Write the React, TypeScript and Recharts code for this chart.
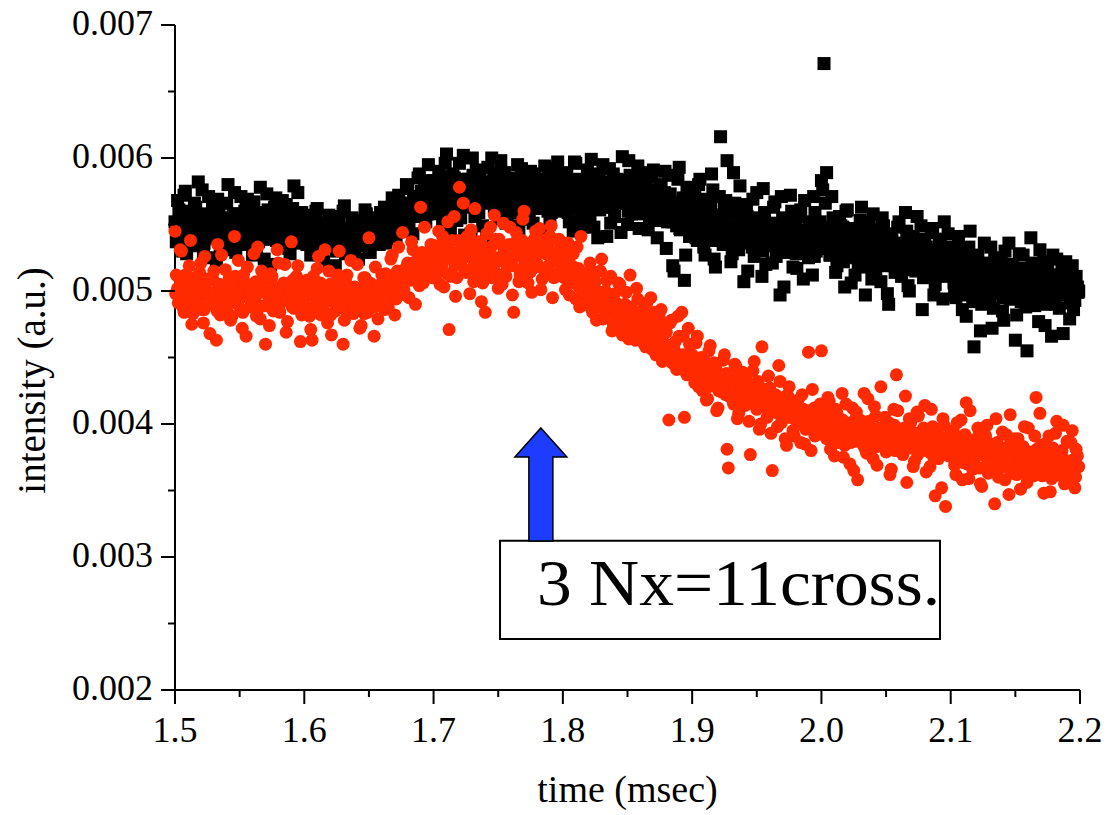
import React from 'react';
import { ScatterChart, Scatter, XAxis, YAxis, ReferenceArea, ReferenceDot } from 'recharts';

// Intensity samples in units of 1e-5 a.u., one array per 0.1 ms block.
// "A" arrays: t = 1.5000, 1.5020, ... ; "B": t = 1.5010, 1.5030, ... ; "C": t = 1.5005, 1.5025, ...
const T_START = 1.5;
const T_STEP = 0.002;

const black150A = [552, 568, 541, 530, 575, 549, 558, 537, 563, 582, 544, 529, 556, 571, 540, 547, 523, 561, 553, 538, 566, 549, 531, 574, 558, 542, 535, 560, 569, 548, 527, 555, 545, 578, 539, 552, 561, 520, 548, 570, 543, 536, 557, 565, 532, 551, 579, 546, 538, 559];
const black160A = [548, 535, 557, 529, 544, 562, 538, 526, 551, 541, 533, 556, 519, 545, 539, 560, 528, 547, 536, 553, 542, 524, 549, 537, 558, 531, 546, 540, 555, 535, 548, 563, 539, 552, 570, 544, 558, 547, 566, 551, 577, 556, 543, 569, 585, 560, 574, 552, 595, 567];
const black170A = [572, 558, 590, 567, 548, 603, 579, 561, 585, 553, 596, 570, 542, 581, 564, 600, 556, 574, 588, 549, 566, 593, 571, 537, 580, 562, 598, 575, 551, 569, 585, 559, 577, 545, 592, 566, 581, 554, 571, 588, 562, 540, 576, 594, 567, 553, 583, 570, 597, 560];
const black180A = [571, 586, 559, 578, 545, 596, 567, 553, 582, 574, 561, 599, 548, 576, 588, 563, 570, 541, 592, 579, 556, 584, 566, 601, 573, 550, 587, 562, 577, 594, 558, 569, 583, 546, 575, 591, 564, 553, 580, 568, 532, 587, 560, 515, 549, 593, 566, 508, 578, 541];
const black190A = [556, 572, 538, 584, 549, 527, 563, 541, 576, 518, 553, 616, 535, 568, 546, 522, 589, 558, 531, 549, 507, 565, 540, 552, 526, 574, 543, 511, 559, 534, 548, 521, 567, 537, 497, 555, 529, 544, 572, 518, 547, 533, 561, 509, 540, 525, 552, 571, 530, 546];
const black200A = [583, 671, 589, 548, 571, 532, 519, 556, 540, 503, 561, 528, 545, 512, 536, 553, 521, 497, 544, 530, 558, 516, 538, 507, 549, 525, 490, 541, 519, 535, 552, 511, 528, 545, 500, 534, 518, 556, 523, 486, 539, 512, 529, 547, 505, 521, 537, 494, 526, 543];
const black210A = [512, 528, 495, 541, 506, 519, 481, 533, 500, 458, 523, 510, 490, 536, 503, 517, 472, 525, 498, 511, 485, 530, 507, 494, 520, 463, 513, 499, 527, 488, 509, 540, 496, 518, 477, 505, 522, 491, 511, 466, 501, 524, 487, 515, 498, 508, 479, 519, 493, 503];

const black150B = [537, 561, 549, 572, 528, 555, 543, 566, 534, 551, 576, 540, 558, 525, 563, 547, 569, 533, 552, 544, 580, 538, 557, 529, 548, 571, 541, 562, 536, 554, 567, 531, 549, 558, 524, 573, 545, 539, 563, 550, 534, 568, 546, 557, 528, 562, 543, 574, 537, 551];
const black160B = [541, 553, 527, 546, 560, 534, 549, 522, 543, 557, 536, 548, 530, 552, 542, 564, 533, 545, 555, 527, 540, 551, 535, 561, 544, 529, 553, 538, 547, 559, 543, 536, 556, 549, 561, 541, 572, 553, 559, 580, 548, 565, 571, 556, 588, 562, 577, 558, 583, 569];
const black170B = [583, 564, 575, 552, 596, 570, 547, 588, 561, 579, 555, 602, 568, 584, 543, 573, 591, 559, 567, 581, 546, 576, 600, 563, 587, 554, 572, 589, 558, 580, 564, 549, 595, 570, 582, 557, 574, 590, 551, 578, 566, 584, 545, 572, 588, 559, 576, 592, 563, 574];
const black180B = [566, 589, 552, 575, 597, 562, 580, 548, 571, 591, 557, 584, 567, 540, 578, 595, 563, 572, 551, 588, 569, 583, 544, 576, 566, 598, 558, 581, 570, 547, 589, 563, 575, 555, 586, 568, 540, 579, 561, 590, 552, 573, 519, 565, 584, 546, 570, 527, 561, 553];
const black190B = [563, 540, 580, 551, 533, 569, 546, 588, 524, 557, 571, 539, 562, 598, 544, 528, 566, 551, 579, 536, 560, 515, 547, 569, 532, 555, 541, 577, 520, 550, 538, 563, 526, 546, 571, 503, 553, 536, 560, 542, 517, 556, 531, 568, 538, 549, 512, 559, 535, 552];
const black200B = [576, 566, 542, 527, 555, 514, 538, 549, 522, 560, 533, 506, 547, 525, 541, 563, 518, 531, 552, 509, 537, 546, 520, 555, 531, 498, 543, 527, 514, 548, 536, 521, 559, 504, 532, 541, 515, 527, 549, 510, 533, 519, 544, 497, 528, 539, 511, 552, 520, 533];
const black210B = [519, 497, 532, 510, 486, 525, 503, 545, 492, 514, 527, 470, 508, 521, 496, 533, 487, 512, 503, 524, 478, 516, 536, 494, 509, 482, 528, 500, 517, 455, 506, 521, 489, 513, 531, 496, 474, 518, 502, 527, 490, 512, 507, 468, 522, 497, 515, 486, 511, 500];

const black150C = [548, 541, 556, 537, 552, 545, 560, 539, 550, 543, 557, 536, 549, 554, 540, 546, 561, 538, 551, 544, 555, 542, 548, 536, 558, 547, 541, 553, 539, 550, 545, 559, 537, 552, 546, 540, 556, 543, 549, 538, 554, 547, 541, 557, 544, 550, 536, 553, 545, 548];
const black160C = [542, 535, 548, 531, 544, 538, 551, 533, 546, 540, 536, 549, 532, 543, 539, 547, 530, 545, 537, 550, 534, 546, 541, 538, 552, 543, 536, 549, 540, 547, 553, 545, 558, 550, 556, 548, 562, 554, 559, 566, 557, 564, 571, 560, 568, 575, 563, 570, 578, 572];
const black170C = [575, 566, 583, 569, 578, 561, 586, 572, 565, 580, 570, 584, 563, 577, 568, 587, 574, 560, 579, 571, 582, 567, 575, 589, 564, 578, 570, 583, 562, 576, 569, 581, 573, 565, 586, 571, 578, 563, 580, 574, 567, 584, 572, 577, 560, 581, 569, 575, 585, 571];
const black180C = [572, 580, 565, 577, 569, 584, 562, 575, 570, 581, 566, 578, 573, 585, 561, 576, 568, 582, 571, 564, 579, 570, 583, 567, 575, 560, 578, 572, 584, 566, 573, 569, 580, 563, 576, 568, 557, 571, 565, 574, 560, 568, 552, 566, 558, 547, 563, 555, 549, 561];
const black190C = [556, 548, 563, 541, 553, 559, 545, 566, 550, 538, 557, 546, 552, 540, 561, 548, 535, 554, 543, 550, 538, 556, 545, 533, 549, 541, 553, 530, 546, 539, 551, 536, 544, 529, 548, 540, 532, 547, 537, 543, 528, 541, 535, 546, 531, 538, 544, 526, 539, 533];
const black200C = [540, 532, 546, 527, 538, 543, 524, 536, 548, 530, 541, 526, 535, 544, 521, 533, 539, 528, 545, 531, 522, 537, 529, 541, 519, 534, 526, 538, 523, 532, 527, 518, 535, 524, 530, 516, 533, 521, 528, 537, 514, 525, 531, 519, 527, 512, 523, 529, 517, 525];
const black210C = [514, 506, 521, 500, 512, 518, 497, 509, 524, 503, 511, 498, 516, 505, 520, 493, 508, 514, 501, 517, 495, 510, 504, 519, 499, 507, 512, 492, 506, 515, 502, 509, 496, 513, 500, 505, 490, 511, 498, 507, 494, 504, 512, 497, 501, 508, 491, 503, 510, 499];

const red150A = [545, 502, 531, 489, 512, 497, 538, 483, 506, 494, 521, 476, 509, 499, 490, 515, 463, 503, 527, 486, 497, 510, 481, 541, 495, 505, 472, 500, 518, 488, 503, 493, 533, 479, 508, 460, 498, 513, 485, 502, 521, 492, 506, 469, 499, 537, 487, 511, 496, 482];
const red160A = [494, 508, 481, 463, 502, 517, 489, 497, 531, 476, 505, 492, 485, 512, 499, 460, 507, 490, 523, 483, 501, 495, 474, 510, 488, 540, 497, 466, 504, 493, 512, 486, 509, 499, 527, 482, 515, 503, 544, 497, 521, 508, 531, 490, 517, 563, 506, 528, 514, 535];
const red170A = [528, 512, 545, 519, 503, 537, 471, 524, 556, 510, 578, 531, 516, 541, 498, 527, 562, 513, 535, 506, 484, 529, 548, 517, 539, 502, 523, 551, 511, 533, 521, 484, 544, 507, 530, 560, 515, 526, 499, 539, 520, 547, 509, 532, 518, 541, 495, 527, 513, 536];
const red180A = [522, 501, 536, 509, 528, 494, 517, 541, 498, 511, 489, 515, 503, 478, 497, 524, 486, 508, 492, 470, 498, 481, 505, 467, 490, 476, 512, 483, 463, 494, 471, 486, 458, 479, 495, 465, 452, 474, 486, 461, 469, 403, 478, 456, 441, 466, 484, 405, 437, 460];
const red190A = [452, 431, 466, 438, 425, 447, 419, 459, 433, 441, 412, 436, 448, 422, 367, 430, 415, 443, 408, 427, 419, 434, 402, 425, 447, 411, 396, 458, 420, 405, 427, 365, 413, 398, 432, 406, 389, 421, 410, 395, 403, 418, 386, 411, 396, 454, 380, 407, 392, 413];
const red200A = [455, 401, 389, 417, 395, 376, 408, 392, 423, 384, 399, 370, 412, 387, 358, 403, 394, 381, 419, 397, 374, 406, 388, 428, 392, 379, 401, 366, 411, 437, 383, 390, 397, 356, 404, 385, 372, 409, 393, 380, 414, 387, 368, 398, 346, 391, 377, 404, 338, 386];
const red210A = [378, 395, 362, 384, 403, 371, 416, 359, 388, 374, 367, 392, 353, 381, 399, 365, 376, 340, 386, 369, 394, 358, 379, 407, 363, 372, 389, 351, 383, 366, 397, 375, 361, 420, 370, 384, 348, 377, 391, 359, 373, 402, 364, 380, 355, 387, 369, 395, 352, 376];

const red150B = [512, 496, 530, 484, 507, 519, 475, 501, 492, 514, 486, 526, 498, 468, 510, 493, 535, 482, 504, 516, 490, 478, 509, 497, 523, 485, 512, 466, 501, 494, 528, 481, 506, 515, 489, 499, 474, 511, 495, 531, 484, 503, 520, 477, 496, 508, 490, 519, 462, 505];
const red160B = [488, 503, 471, 511, 495, 526, 482, 500, 493, 515, 467, 506, 489, 530, 498, 478, 512, 494, 485, 503, 520, 472, 499, 510, 484, 506, 492, 518, 479, 502, 497, 513, 488, 524, 505, 494, 533, 511, 501, 518, 495, 537, 512, 523, 504, 529, 548, 516, 522, 510];
const red170B = [534, 517, 505, 541, 526, 552, 511, 529, 496, 538, 520, 566, 514, 532, 546, 507, 525, 537, 492, 519, 543, 528, 510, 557, 522, 536, 505, 530, 518, 548, 497, 526, 539, 512, 554, 523, 506, 534, 517, 545, 528, 501, 538, 515, 530, 549, 510, 524, 539, 519];
const red180B = [510, 529, 497, 519, 506, 533, 488, 512, 502, 495, 521, 484, 507, 493, 515, 479, 500, 488, 511, 475, 491, 506, 472, 485, 499, 464, 488, 476, 502, 469, 482, 460, 491, 473, 456, 484, 468, 479, 447, 470, 458, 476, 449, 462, 481, 445, 466, 452, 472, 438];
const red190B = [444, 461, 428, 450, 436, 418, 455, 429, 446, 410, 437, 424, 452, 381, 433, 419, 445, 404, 428, 439, 414, 426, 377, 440, 417, 432, 400, 423, 414, 436, 393, 419, 409, 444, 401, 416, 384, 428, 405, 391, 417, 400, 422, 385, 409, 398, 426, 391, 404, 415];
const red200B = [407, 393, 420, 381, 398, 411, 386, 403, 375, 415, 392, 401, 365, 409, 389, 396, 423, 378, 402, 387, 413, 369, 396, 384, 405, 391, 362, 399, 380, 410, 394, 377, 421, 386, 401, 368, 393, 406, 381, 397, 364, 389, 411, 375, 395, 383, 352, 399, 379, 391];
const red210B = [386, 369, 401, 375, 358, 392, 381, 410, 366, 384, 397, 355, 378, 391, 363, 385, 373, 404, 360, 381, 368, 392, 347, 377, 389, 362, 383, 370, 398, 356, 379, 366, 391, 373, 408, 361, 385, 369, 349, 382, 393, 365, 377, 399, 358, 371, 386, 363, 381, 368];

const red150C = [498, 491, 506, 487, 502, 495, 510, 489, 500, 493, 504, 486, 497, 508, 492, 499, 485, 505, 494, 501, 488, 503, 496, 511, 490, 498, 484, 506, 495, 500, 492, 507, 487, 499, 503, 489, 496, 509, 491, 502, 486, 497, 505, 493, 500, 488, 504, 494, 499, 490];
const red160C = [495, 488, 503, 484, 498, 491, 506, 486, 500, 493, 482, 497, 489, 504, 492, 499, 485, 501, 494, 487, 502, 490, 496, 483, 505, 493, 498, 488, 503, 495, 500, 507, 497, 510, 503, 499, 512, 505, 515, 508, 518, 511, 521, 514, 509, 523, 516, 526, 519, 513];
const red170C = [524, 516, 531, 520, 535, 513, 527, 538, 519, 529, 522, 534, 515, 526, 540, 518, 530, 523, 536, 514, 528, 521, 533, 517, 525, 539, 512, 530, 524, 535, 519, 527, 532, 516, 538, 522, 529, 514, 526, 533, 520, 531, 517, 528, 535, 521, 526, 511, 530, 524];
const red180C = [519, 512, 523, 507, 516, 510, 503, 514, 499, 508, 497, 505, 491, 500, 494, 488, 498, 484, 493, 487, 481, 490, 476, 485, 479, 472, 483, 468, 477, 471, 466, 474, 461, 469, 463, 457, 467, 453, 462, 456, 450, 459, 446, 454, 449, 443, 452, 440, 447, 442];
const red190C = [442, 435, 447, 430, 439, 444, 428, 437, 432, 441, 425, 434, 429, 438, 421, 431, 426, 435, 419, 428, 423, 416, 427, 420, 430, 414, 424, 418, 426, 411, 419, 413, 422, 408, 417, 411, 421, 405, 414, 409, 416, 403, 411, 407, 398, 410, 404, 412, 400, 406];
const red200C = [402, 395, 409, 391, 400, 405, 388, 397, 403, 393, 399, 386, 396, 404, 390, 398, 384, 394, 401, 389, 393, 383, 397, 388, 395, 380, 392, 386, 399, 384, 391, 379, 389, 394, 382, 390, 385, 377, 392, 381, 386, 393, 378, 388, 383, 374, 390, 380, 385, 376];
const red210C = [383, 376, 389, 372, 381, 386, 370, 379, 384, 374, 380, 367, 377, 385, 371, 378, 366, 382, 373, 379, 369, 376, 383, 365, 374, 380, 368, 377, 363, 372, 378, 366, 373, 381, 362, 371, 376, 364, 374, 369, 361, 372, 367, 375, 359, 370, 364, 373, 360, 368];

const xTicks = [1.5, 1.55, 1.6, 1.65, 1.7, 1.75, 1.8, 1.85, 1.9, 1.95, 2.0, 2.05, 2.1, 2.15, 2.2];
const yTicks = [0.002, 0.0025, 0.003, 0.0035, 0.004, 0.0045, 0.005, 0.0055, 0.006, 0.0065, 0.007];

const xTitle = 'time (msec)';
const yTitle = 'intensity (a.u.)';
const noteText = '3 Nx=11cross.';
const arrowTip = { t: 1.783, v: 0.00397 };
const noteBox = { t1: 1.7514, t2: 2.0917, v1: 0.002383, v2: 0.003123 };

const toPoints = (segments: number[][], t0: number) =>
  segments.flat().map((v, i) => ({ t: +(t0 + i * T_STEP).toFixed(4), v: v / 100000 }));

const blackData = [
  ...toPoints([black150A, black160A, black170A, black180A, black190A, black200A, black210A], T_START),
  ...toPoints([black150B, black160B, black170B, black180B, black190B, black200B, black210B], T_START + T_STEP / 2),
  ...toPoints([black150C, black160C, black170C, black180C, black190C, black200C, black210C], T_START + T_STEP / 4),
];
const redData = [
  ...toPoints([red150A, red160A, red170A, red180A, red190A, red200A, red210A], T_START),
  ...toPoints([red150B, red160B, red170B, red180B, red190B, red200B, red210B], T_START + T_STEP / 2),
  ...toPoints([red150C, red160C, red170C, red180C, red190C, red200C, red210C], T_START + T_STEP / 4),
];

const FONT = '"Liberation Serif", "Times New Roman", serif';
const TICK = 14;
const MINOR = 7;
const GAP = 8;

const YTick = (props: any) => {
  const { x, y, payload } = props;
  const val = payload.value;
  const major = Math.abs(Math.round(val * 1000) - val * 1000) < 1e-6;
  const ax = x + TICK + GAP;
  return (
    <g>
      <line x1={ax - (major ? TICK : MINOR)} x2={ax} y1={y} y2={y} stroke="#000" strokeWidth={2} />
      {major && (
        <text x={x} y={y + 10} textAnchor="end" fontSize={36} fontFamily={FONT} fill="#000">
          {val.toFixed(3)}
        </text>
      )}
    </g>
  );
};

const XTick = (props: any) => {
  const { x, y, payload } = props;
  const val = payload.value;
  const major = Math.abs(Math.round(val * 10) - val * 10) < 1e-6;
  const ay = y - TICK - GAP;
  return (
    <g>
      <line x1={x} x2={x} y1={ay} y2={ay + (major ? TICK : MINOR)} stroke="#000" strokeWidth={2} />
      {major && (
        <text x={x} y={ay + 52} textAnchor="middle" fontSize={36} fontFamily={FONT} fill="#000">
          {val.toFixed(1)}
        </text>
      )}
    </g>
  );
};

const blackSquare = (p: any) => <rect x={p.cx - 6.5} y={p.cy - 6.5} width={13} height={13} fill="#000" />;
const redCircle = (p: any) => <circle cx={p.cx} cy={p.cy} r={6.5} fill="#FF2A00" />;

const arrowShape = (p: any) => {
  const { cx, cy } = p;
  const pts = [
    [0, 0], [26, 29], [12, 29], [12, 113], [-12, 113], [-12, 29], [-26, 29],
  ].map(([dx, dy]) => `${cx + dx},${cy + dy}`).join(' ');
  return <polygon points={pts} fill="#1E3CFF" stroke="#000" strokeWidth={1.5} />;
};

const noteLabel = (props: any) => {
  const vb = props.viewBox;
  return (
    <text x={vb.x + 37} y={vb.y + 64} fontSize={65} fontFamily={FONT} fill="#000" textLength={403} lengthAdjust="spacingAndGlyphs">
      {noteText}
    </text>
  );
};

const xTitleLabel = (props: any) => {
  const vb = props.viewBox;
  return (
    <text x={vb.x + vb.width / 2} y={vb.y + 112} textAnchor="middle" fontSize={38} fontFamily={FONT} fill="#000">
      {xTitle}
    </text>
  );
};

const yTitleLabel = (props: any) => {
  const vb = props.viewBox;
  const cx = vb.x + 45;
  const cy = vb.y + vb.height / 2 + 23;
  return (
    <text x={0} y={0} transform={`translate(${cx},${cy}) rotate(-90)`} textAnchor="middle" fontSize={39} fontFamily={FONT} fill="#000">
      {yTitle}
    </text>
  );
};

export default function App() {
  return (
    <div style={{ position: 'absolute', left: 0, top: 0, width: 1109, height: 815, background: '#fff' }}>
      <ScatterChart width={1109} height={815} margin={{ top: 25, right: 29, bottom: 0, left: 0 }}>
        <XAxis
          type="number"
          dataKey="t"
          domain={[1.5, 2.2]}
          ticks={xTicks}
          interval={0}
          tick={<XTick />}
          tickLine={false}
          tickSize={TICK}
          tickMargin={GAP}
          axisLine={{ stroke: '#000', strokeWidth: 2 }}
          height={125}
          label={xTitleLabel}
        />
        <YAxis
          type="number"
          dataKey="v"
          domain={[0.002, 0.007]}
          ticks={yTicks}
          interval={0}
          tick={<YTick />}
          tickLine={false}
          tickSize={TICK}
          tickMargin={GAP}
          axisLine={{ stroke: '#000', strokeWidth: 2 }}
          width={175}
          label={yTitleLabel}
        />
        <Scatter data={blackData} dataKey="v" shape={blackSquare} isAnimationActive={false} />
        <Scatter data={redData} dataKey="v" shape={redCircle} isAnimationActive={false} />
        <ReferenceDot x={arrowTip.t} y={arrowTip.v} r={0} shape={arrowShape} />
        <ReferenceArea
          x1={noteBox.t1}
          x2={noteBox.t2}
          y1={noteBox.v1}
          y2={noteBox.v2}
          fill="#fff"
          fillOpacity={1}
          stroke="#000"
          strokeWidth={2}
          label={noteLabel}
        />
      </ScatterChart>
    </div>
  );
}
